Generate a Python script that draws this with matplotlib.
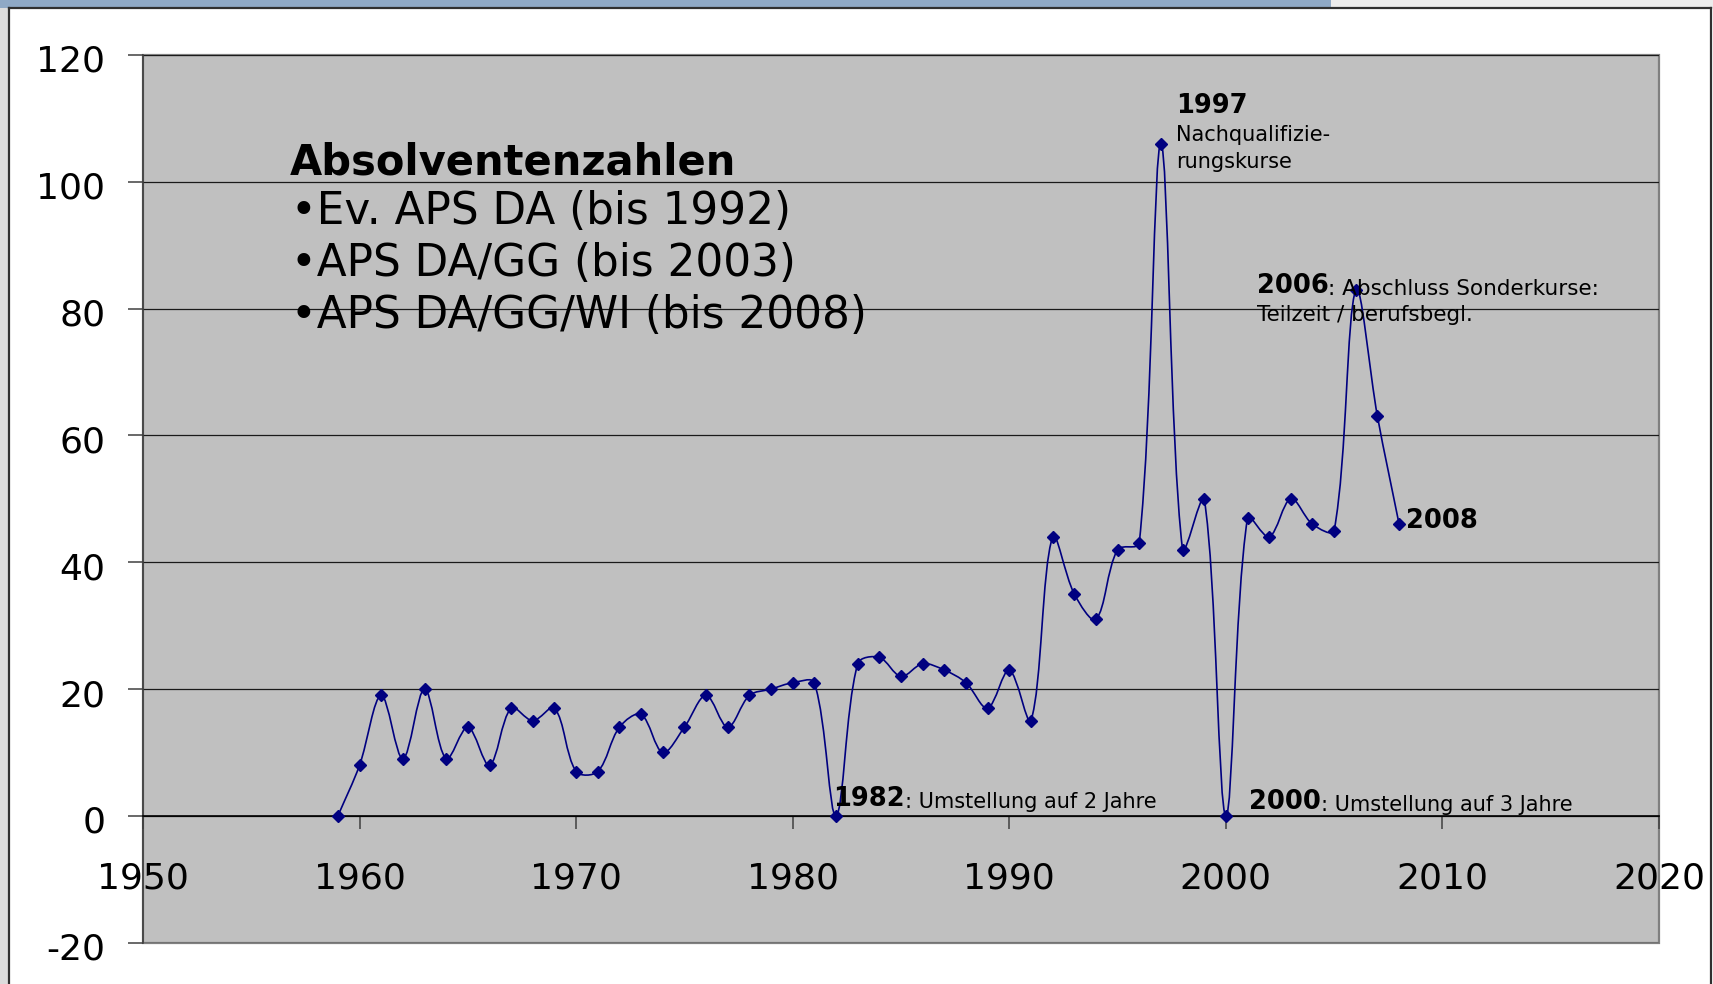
import numpy as np
import matplotlib
matplotlib.use("Agg")
import matplotlib.pyplot as plt
from matplotlib.path import Path
from matplotlib.patches import PathPatch, Rectangle
from matplotlib.lines import Line2D
from matplotlib.transforms import ScaledTranslation

# ---------------- data ----------------
years = [1959, 1960, 1961, 1962, 1963, 1964, 1965, 1966, 1967, 1968, 1969,
         1970, 1971, 1972, 1973, 1974, 1975, 1976, 1977, 1978, 1979,
         1980, 1981, 1982, 1983, 1984, 1985, 1986, 1987, 1988, 1989,
         1990, 1991, 1992, 1993, 1994, 1995, 1996, 1997, 1998, 1999,
         2000, 2001, 2002, 2003, 2004, 2005, 2006, 2007, 2008]
graduates = [0, 8, 19, 9, 20, 9, 14, 8, 17, 15, 17,
             7, 7, 14, 16, 10, 14, 19, 14, 19, 20,
             21, 21, 0, 24, 25, 22, 24, 23, 21, 17,
             23, 15, 44, 35, 31, 42, 43, 106, 42, 50,
             0, 47, 44, 50, 46, 45, 83, 63, 46]

x_ticks = [1950, 1960, 1970, 1980, 1990, 2000, 2010, 2020]
y_ticks = [-20, 0, 20, 40, 60, 80, 100, 120]

title_text = "Absolventenzahlen"
bullet_lines = ["\u2022Ev. APS DA (bis 1992)",
                "\u2022APS DA/GG (bis 2003)",
                "\u2022APS DA/GG/WI (bis 2008)"]

# ---------------- figure ----------------
W, H = 1713, 984
fig = plt.figure(figsize=(W / 100, H / 100), dpi=100)
fig.patch.set_facecolor("white")

def px(x, y):
    return x / W, 1 - y / H

# slide decorations
fig.patches.append(Rectangle((0, 1 - 8 / H), 1331 / W, 8 / H, transform=fig.transFigure,
                             facecolor="#8FA9C6", edgecolor="none", zorder=0))
fig.patches.append(Rectangle((1331 / W, 1 - 8 / H), 1 - 1331 / W, 8 / H, transform=fig.transFigure,
                             facecolor="#ECECEC", edgecolor="none", zorder=0))
fig.patches.append(Rectangle((0, 0), 8 / W, 1 - 8 / H, transform=fig.transFigure,
                             facecolor="#DCDCDC", edgecolor="none", zorder=0))
for (x0, y0, x1, y1) in [(8.5, 8, 8.5, H), (8.5, 8, 1711, 8), (1711, 8, 1711, H)]:
    a, b = px(x0, y0)
    c, d = px(x1, y1)
    fig.add_artist(Line2D([a, c], [b, d], color="#303030", lw=1.6,
                          transform=fig.transFigure))

ax = fig.add_axes([143 / W, (H - 942.7) / H, (1659 - 143) / W, (942.7 - 55) / H])
ax.set_facecolor("#C0C0C0")
ax.set_xlim(1950, 2020)
ax.set_ylim(-20, 120)

for s in ["top", "right"]:
    ax.spines[s].set_visible(False)
ax.spines["left"].set_color("#404040")
ax.spines["left"].set_linewidth(1.2)
ax.spines["bottom"].set_position(("data", 0))
ax.spines["bottom"].set_color("black")
ax.spines["bottom"].set_linewidth(1.2)
ax.add_patch(Rectangle((0, 0), 1, 1, transform=ax.transAxes, fill=False,
                       edgecolor="#808080", lw=1.6, zorder=0.5, clip_on=False))

ax.set_yticks(y_ticks)
ax.set_xticks(x_ticks)
ax.set_yticklabels([str(v) for v in y_ticks])
ax.set_xticklabels([str(v) for v in x_ticks])
ax.tick_params(axis="y", direction="out", length=11, width=1.1, color="#404040",
               labelsize=26, pad=16)
ax.tick_params(axis="x", direction="out", length=9.5, width=1.1, color="#404040",
               labelsize=26, pad=23)
shift = ScaledTranslation(0, -3.5 / 100, fig.dpi_scale_trans)
for lab in ax.get_yticklabels():
    lab.set_transform(lab.get_transform() + shift)
ax.grid(axis="y", color="#1a1a1a", lw=0.9)
ax.set_axisbelow(True)

# smoothed line (Bezier through points, spreadsheet-style smoothing,
# control-point lengths weighted by segment lengths on screen)
pts = np.column_stack([years, graduates]).astype(float)
scr = ax.transData.transform(pts)
n = len(pts)
verts = [pts[0]]
codes = [Path.MOVETO]

def dist(a, b):
    return float(np.hypot(*(scr[a] - scr[b])))

for i in range(n - 1):
    i0 = i - 1 if i > 0 else i
    i3 = i + 2 if i + 2 < n else i + 1
    d01 = dist(i0, i)
    d12 = dist(i, i + 1)
    d23 = dist(i + 1, i3)
    f1 = d12 / (d01 + d12) / 3.0 if d01 + d12 > 0 else 0
    f2 = d12 / (d12 + d23) / 3.0 if d12 + d23 > 0 else 0
    c1 = pts[i] + (pts[i + 1] - pts[i0]) * f1
    c2 = pts[i + 1] - (pts[i3] - pts[i]) * f2
    verts += [c1, c2, pts[i + 1]]
    codes += [Path.CURVE4] * 3
ax.add_patch(PathPatch(Path(verts, codes), facecolor="none", edgecolor="#000080",
                       lw=1.2, zorder=3))
ax.plot(years, graduates, linestyle="none", marker="D", markersize=6,
        color="#000080", zorder=4)

# title block
ax.text(1956.8, 101.2, title_text, fontsize=30, fontweight="bold", va="baseline",
        ha="left", color="black")
for k, line in enumerate(bullet_lines):
    ax.text(1956.85, 93.3 - k * 8.2, line, fontsize=31.5, va="baseline", ha="left",
            color="black")

def bold_then_regular(x, y, bold, rest, fs_bold=18.5, fs_rest=15):
    t = ax.text(x, y, bold, fontsize=fs_bold, fontweight="bold", va="baseline",
                ha="left", color="black", zorder=5)
    ax.annotate(rest, xy=(1, 0), xycoords=t, xytext=(0, 0), textcoords="offset points",
                fontsize=fs_rest, va="bottom", ha="left", color="black", zorder=5)
    return t

ax.text(1997.7, 110.9, "1997", fontsize=18.5, fontweight="bold", va="baseline", ha="left")
ax.text(1997.7, 106.4, "Nachqualifizie-", fontsize=15, va="baseline", ha="left")
ax.text(1997.7, 102.2, "rungskurse", fontsize=15, va="baseline", ha="left")

bold_then_regular(2001.42, 82.5, "2006", ": Abschluss Sonderkurse:", fs_rest=15.5)
ax.text(2001.42, 78.1, "Teilzeit / berufsbegl.", fontsize=15.5, va="baseline", ha="left")

ax.text(2008.3, 45.4, "2008", fontsize=18.5, fontweight="bold", va="baseline", ha="left")

bold_then_regular(1981.86, 1.5, "1982", ": Umstellung auf 2 Jahre")
bold_then_regular(2001.07, 1.1, "2000", ": Umstellung auf 3 Jahre")

fig.savefig("out.png", dpi=100)
